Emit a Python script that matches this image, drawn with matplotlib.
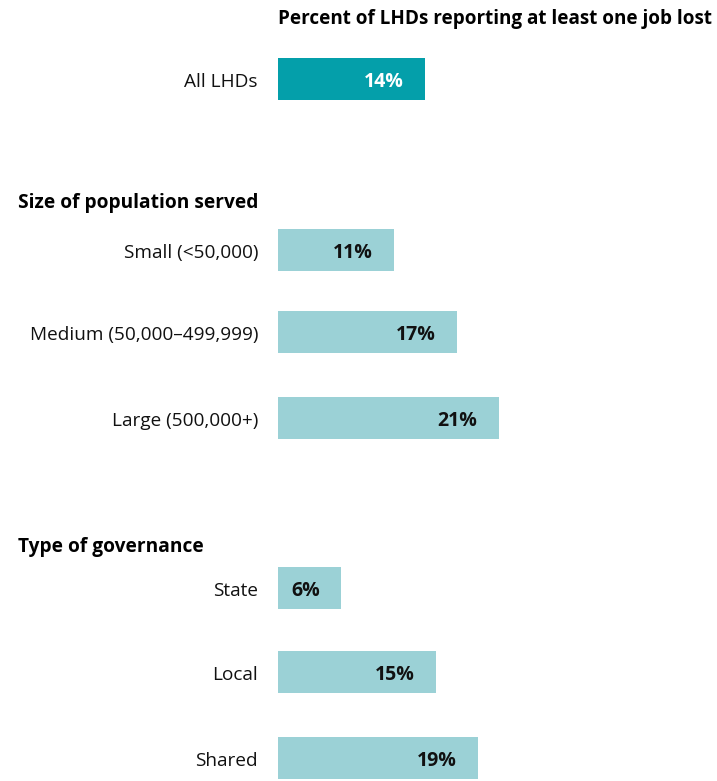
import matplotlib.pyplot as plt

plt.rcParams['font.family'] = ['Open Sans', 'DejaVu Sans']

title = 'Percent of LHDs reporting at least one job lost'
groups = ['Size of population served', 'Type of governance']
labels = ['All LHDs',
          'Small (<50,000)', 'Medium (50,000\u2013499,999)', 'Large (500,000+)',
          'State', 'Local', 'Shared']
values = [14, 11, 17, 21, 6, 15, 19]

# layout (pixel rows in a 781 px tall figure)
rows = [79, 250, 332, 418, 588, 672, 758]
group_rows = [202, 546]
colors = ['#049faa'] + ['#9bd1d6'] * 6
text_colors = ['white'] + ['#111111'] * 6

W, H = 717, 781
x0 = 278
px_per_pct = 10.5

fig = plt.figure(figsize=(W / 100, H / 100), dpi=100)
ax = fig.add_axes([x0 / W, 0, 1 - x0 / W, 1])
ax.set_xlim(0, (W - x0) / px_per_pct)
ax.set_ylim(H, 0)
ax.axis('off')

ax.barh(rows, values, height=42, color=colors)
for y, v, tc in zip(rows, values, text_colors):
    ax.text(v - 21 / px_per_pct, y + 3, f'{v}%', ha='right', va='center',
            fontsize=14, fontweight='bold', color=tc)

for y, lab in zip(rows, labels):
    fig.text(258 / W, 1 - (y + 3) / H, lab, ha='right', va='center',
             fontsize=13.7, color='#111111')

fig.text(x0 / W, 1 - 19 / H, title, ha='left', va='center',
         fontsize=13.6, fontweight='bold', color='black')
for y, g in zip(group_rows, groups):
    fig.text(18 / W, 1 - (y + 1) / H, g, ha='left', va='center',
             fontsize=13.8, fontweight='bold', color='black')

fig.savefig('out.png', dpi=100)
